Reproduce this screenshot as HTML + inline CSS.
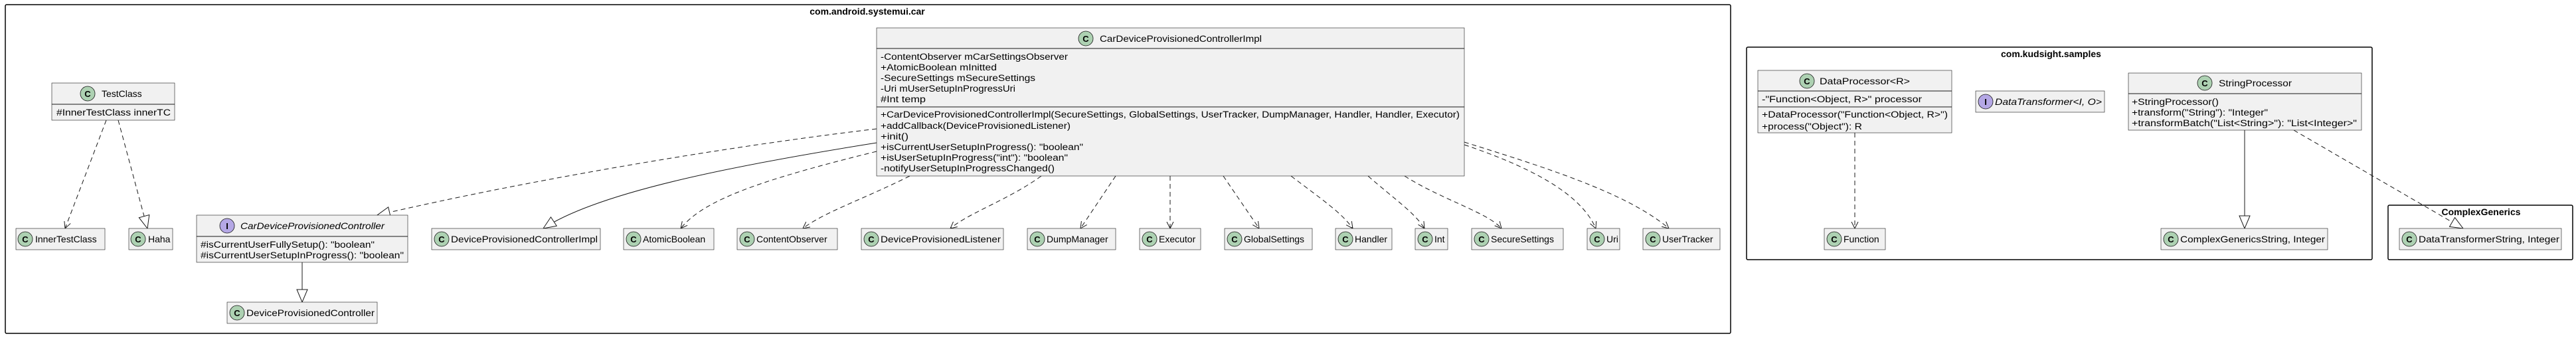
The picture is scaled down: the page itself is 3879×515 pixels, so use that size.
<!DOCTYPE html>
<html><head><meta charset="utf-8"><style>
html,body{margin:0;padding:0;background:#fff;}
svg{display:block;font-family:"Liberation Sans",sans-serif;}
.b{fill:#F1F1F1;stroke:#181818;stroke-width:0.6;}
.c{fill:#ADD1B2;stroke:#181818;stroke-width:0.8;}
.i{fill:#B4A7E5;stroke:#181818;stroke-width:0.8;}
.l{font-size:14px;fill:#000;}
.m{font-size:13.5px;fill:#000;}
.ic{font-size:13px;font-weight:bold;fill:#000;text-anchor:middle;}
.pk{fill:none;stroke:#000;stroke-width:1.5;}
.d{fill:none;stroke:#181818;stroke-width:1;stroke-dasharray:7,5;}
.s{fill:none;stroke:#181818;stroke-width:1;}
.pt{font-size:14px;font-weight:bold;fill:#000;}
</style></head><body>
<svg width="3879" height="515" viewBox="0 0 3879 515" xmlns="http://www.w3.org/2000/svg">
<defs>
<marker id="ar" markerWidth="12" markerHeight="12" refX="10" refY="6" orient="auto" markerUnits="userSpaceOnUse">
<path d="M0,1 L10,6 L0,11" fill="none" stroke="#181818" stroke-width="1"/></marker>
<marker id="tr" markerWidth="22" markerHeight="20" refX="20" refY="10" orient="auto" markerUnits="userSpaceOnUse">
<path d="M1,2 L20,10 L1,18 Z" fill="#fff" stroke="#181818" stroke-width="1"/></marker>
</defs>

<!-- packages -->
<rect class="pk" x="8" y="7" width="2598" height="495" rx="2"/>
<text class="pt" x="1306" y="22" text-anchor="middle">com.android.systemui.car</text>
<rect class="pk" x="2630" y="71" width="942" height="320" rx="2"/>
<text class="pt" x="3013" y="86">com.kudsight.samples</text>
<rect class="pk" x="3596" y="309" width="278" height="82" rx="2"/>
<text class="pt" x="3736" y="324" text-anchor="middle">ComplexGenerics</text>

<!-- edges -->
<path class="d" d="M160,181 L98,344" marker-end="url(#ar)"/>
<path class="d" d="M178,181 L222,344" marker-end="url(#tr)"/>
<path class="d" d="M1320,194 C1100,220 800,270 568,324" marker-end="url(#tr)"/>
<path class="s" d="M1320,215 C1100,250 900,290 818,344" marker-end="url(#tr)"/>
<path class="s" d="M455,395 L455,455" marker-end="url(#tr)"/>
<path class="d" d="M1320,228 C1150,270 1060,300 1025,344" marker-end="url(#ar)"/>
<path class="d" d="M1370,265 C1300,300 1240,320 1209,344" marker-end="url(#ar)"/>
<path class="d" d="M1568,265 C1520,300 1460,320 1431,344" marker-end="url(#ar)"/>
<path class="d" d="M1680,265 L1627,344" marker-end="url(#ar)"/>
<path class="d" d="M1762,265 L1762,344" marker-end="url(#ar)"/>
<path class="d" d="M1842,265 L1896,344" marker-end="url(#ar)"/>
<path class="d" d="M1944,265 C1990,300 2020,320 2037,344" marker-end="url(#ar)"/>
<path class="d" d="M2060,265 C2100,300 2130,320 2145,344" marker-end="url(#ar)"/>
<path class="d" d="M2115,265 C2170,300 2240,320 2261,344" marker-end="url(#ar)"/>
<path class="d" d="M2205,218 C2300,250 2380,290 2403,344" marker-end="url(#ar)"/>
<path class="d" d="M2205,214 C2320,250 2450,290 2513,344" marker-end="url(#ar)"/>
<path class="d" d="M2793,200 L2793,344" marker-end="url(#ar)"/>
<path class="s" d="M3380,196 L3380,344" marker-end="url(#tr)"/>
<path class="d" d="M3454,196 L3709,344" marker-end="url(#tr)"/>

<!-- TestClass -->
<rect class="b" x="78" y="125" width="185" height="56"/>
<line class="s" x1="78" y1="157" x2="263" y2="157"/>
<circle class="c" cx="132" cy="141" r="11"/><text class="ic" x="132" y="146">C</text>
<text class="l" x="153" y="146">TestClass</text>
<text class="m" x="85" y="174" textLength="172" lengthAdjust="spacingAndGlyphs">#InnerTestClass innerTC</text>

<!-- simple classes -->
<g>
<rect class="b" x="24" y="344" width="134" height="32"/><circle class="c" cx="38" cy="360" r="11"/><text class="ic" x="38" y="365">C</text><text class="l" x="53" y="365">InnerTestClass</text>
<rect class="b" x="194" y="344" width="66" height="32"/><circle class="c" cx="208" cy="360" r="11"/><text class="ic" x="208" y="365">C</text><text class="l" x="223" y="365">Haha</text>
<rect class="b" x="342" y="455" width="226" height="32"/><circle class="c" cx="357" cy="471" r="11"/><text class="ic" x="357" y="476">C</text><text class="l" x="371" y="476" textLength="193" lengthAdjust="spacingAndGlyphs">DeviceProvisionedController</text>
<rect class="b" x="650" y="344" width="254" height="32"/><circle class="c" cx="665" cy="360" r="11"/><text class="ic" x="665" y="365">C</text><text class="l" x="679" y="365" textLength="221" lengthAdjust="spacingAndGlyphs">DeviceProvisionedControllerImpl</text>
<rect class="b" x="939" y="344" width="136" height="32"/><circle class="c" cx="954" cy="360" r="11"/><text class="ic" x="954" y="365">C</text><text class="l" x="968" y="365">AtomicBoolean</text>
<rect class="b" x="1110" y="344" width="151" height="32"/><circle class="c" cx="1125" cy="360" r="11"/><text class="ic" x="1125" y="365">C</text><text class="l" x="1139" y="365">ContentObserver</text>
<rect class="b" x="1297" y="344" width="214" height="32"/><circle class="c" cx="1312" cy="360" r="11"/><text class="ic" x="1312" y="365">C</text><text class="l" x="1326" y="365" textLength="181" lengthAdjust="spacingAndGlyphs">DeviceProvisionedListener</text>
<rect class="b" x="1547" y="344" width="133" height="32"/><circle class="c" cx="1562" cy="360" r="11"/><text class="ic" x="1562" y="365">C</text><text class="l" x="1576" y="365">DumpManager</text>
<rect class="b" x="1716" y="344" width="92" height="32"/><circle class="c" cx="1731" cy="360" r="11"/><text class="ic" x="1731" y="365">C</text><text class="l" x="1745" y="365">Executor</text>
<rect class="b" x="1844" y="344" width="132" height="32"/><circle class="c" cx="1859" cy="360" r="11"/><text class="ic" x="1859" y="365">C</text><text class="l" x="1873" y="365">GlobalSettings</text>
<rect class="b" x="2011" y="344" width="85" height="32"/><circle class="c" cx="2026" cy="360" r="11"/><text class="ic" x="2026" y="365">C</text><text class="l" x="2040" y="365">Handler</text>
<rect class="b" x="2131" y="344" width="49" height="32"/><circle class="c" cx="2146" cy="360" r="11"/><text class="ic" x="2146" y="365">C</text><text class="l" x="2160" y="365">Int</text>
<rect class="b" x="2216" y="344" width="138" height="32"/><circle class="c" cx="2231" cy="360" r="11"/><text class="ic" x="2231" y="365">C</text><text class="l" x="2245" y="365">SecureSettings</text>
<rect class="b" x="2390" y="344" width="49" height="32"/><circle class="c" cx="2405" cy="360" r="11"/><text class="ic" x="2405" y="365">C</text><text class="l" x="2419" y="365">Uri</text>
<rect class="b" x="2474" y="344" width="116" height="32"/><circle class="c" cx="2489" cy="360" r="11"/><text class="ic" x="2489" y="365">C</text><text class="l" x="2503" y="365">UserTracker</text>
<rect class="b" x="2747" y="344" width="92" height="32"/><circle class="c" cx="2762" cy="360" r="11"/><text class="ic" x="2762" y="365">C</text><text class="l" x="2776" y="365">Function</text>
<rect class="b" x="3254" y="344" width="251" height="32"/><circle class="c" cx="3269" cy="360" r="11"/><text class="ic" x="3269" y="365">C</text><text class="l" x="3283" y="365" textLength="218" lengthAdjust="spacingAndGlyphs">ComplexGenericsString, Integer</text>
<rect class="b" x="3613" y="344" width="244" height="32"/><circle class="c" cx="3628" cy="360" r="11"/><text class="ic" x="3628" y="365">C</text><text class="l" x="3642" y="365" textLength="212" lengthAdjust="spacingAndGlyphs">DataTransformerString, Integer</text>
</g>

<!-- CarDeviceProvisionedController interface -->
<rect class="b" x="296" y="324" width="318" height="71"/>
<line class="s" x1="296" y1="356" x2="614" y2="356"/>
<circle class="i" cx="342" cy="340" r="11"/><text class="ic" x="342" y="345">I</text>
<text class="l" x="362" y="345" font-style="italic" textLength="217" lengthAdjust="spacingAndGlyphs">CarDeviceProvisionedController</text>
<text class="m" x="302" y="373" textLength="262" lengthAdjust="spacingAndGlyphs">#isCurrentUserFullySetup(): "boolean"</text>
<text class="m" x="302" y="389" textLength="306" lengthAdjust="spacingAndGlyphs">#isCurrentUserSetupInProgress(): "boolean"</text>

<!-- CarDeviceProvisionedControllerImpl -->
<rect class="b" x="1320" y="42" width="885" height="223"/>
<line class="s" x1="1320" y1="73" x2="2205" y2="73"/>
<line class="s" x1="1320" y1="161" x2="2205" y2="161"/>
<circle class="c" cx="1635" cy="58" r="11"/><text class="ic" x="1635" y="63">C</text>
<text class="l" x="1656" y="63" textLength="244" lengthAdjust="spacingAndGlyphs">CarDeviceProvisionedControllerImpl</text>
<text class="m" x="1326" y="90" textLength="282" lengthAdjust="spacingAndGlyphs">-ContentObserver mCarSettingsObserver</text>
<text class="m" x="1326" y="106" textLength="175" lengthAdjust="spacingAndGlyphs">+AtomicBoolean mInitted</text>
<text class="m" x="1326" y="122" textLength="233" lengthAdjust="spacingAndGlyphs">-SecureSettings mSecureSettings</text>
<text class="m" x="1326" y="138" textLength="203" lengthAdjust="spacingAndGlyphs">-Uri mUserSetupInProgressUri</text>
<text class="m" x="1326" y="154" textLength="68" lengthAdjust="spacingAndGlyphs">#Int temp</text>
<text class="m" x="1326" y="177" textLength="872" lengthAdjust="spacingAndGlyphs">+CarDeviceProvisionedControllerImpl(SecureSettings, GlobalSettings, UserTracker, DumpManager, Handler, Handler, Executor)</text>
<text class="m" x="1326" y="194" textLength="286" lengthAdjust="spacingAndGlyphs">+addCallback(DeviceProvisionedListener)</text>
<text class="m" x="1326" y="210" textLength="42" lengthAdjust="spacingAndGlyphs">+init()</text>
<text class="m" x="1326" y="226" textLength="305" lengthAdjust="spacingAndGlyphs">+isCurrentUserSetupInProgress(): "boolean"</text>
<text class="m" x="1326" y="242" textLength="282" lengthAdjust="spacingAndGlyphs">+isUserSetupInProgress("int"): "boolean"</text>
<text class="m" x="1326" y="258" textLength="262" lengthAdjust="spacingAndGlyphs">-notifyUserSetupInProgressChanged()</text>

<!-- DataProcessor -->
<rect class="b" x="2647" y="106" width="292" height="94"/>
<line class="s" x1="2647" y1="137" x2="2939" y2="137"/>
<line class="s" x1="2647" y1="161" x2="2939" y2="161"/>
<circle class="c" cx="2721" cy="122" r="11"/><text class="ic" x="2721" y="127">C</text>
<text class="l" x="2740" y="127" textLength="136" lengthAdjust="spacingAndGlyphs">DataProcessor&lt;R&gt;</text>
<text class="m" x="2653" y="154" textLength="241" lengthAdjust="spacingAndGlyphs">-"Function&lt;Object, R&gt;" processor</text>
<text class="m" x="2653" y="177" textLength="280" lengthAdjust="spacingAndGlyphs">+DataProcessor("Function&lt;Object, R&gt;")</text>
<text class="m" x="2653" y="195" textLength="151" lengthAdjust="spacingAndGlyphs">+process("Object"): R</text>

<!-- DataTransformer -->
<rect class="b" x="2975" y="137" width="194" height="32"/>
<circle class="i" cx="2990" cy="153" r="11"/><text class="ic" x="2990" y="158">I</text>
<text class="l" x="3004" y="158" font-style="italic" textLength="161" lengthAdjust="spacingAndGlyphs">DataTransformer&lt;I, O&gt;</text>

<!-- StringProcessor -->
<rect class="b" x="3205" y="110" width="351" height="86"/>
<line class="s" x1="3205" y1="141" x2="3556" y2="141"/>
<circle class="c" cx="3320" cy="125" r="11"/><text class="ic" x="3320" y="130">C</text>
<text class="l" x="3341" y="130" textLength="110" lengthAdjust="spacingAndGlyphs">StringProcessor</text>
<text class="m" x="3210" y="158" textLength="131" lengthAdjust="spacingAndGlyphs">+StringProcessor()</text>
<text class="m" x="3210" y="174" textLength="205" lengthAdjust="spacingAndGlyphs">+transform("String"): "Integer"</text>
<text class="m" x="3210" y="190" textLength="339" lengthAdjust="spacingAndGlyphs">+transformBatch("List&lt;String&gt;"): "List&lt;Integer&gt;"</text>
</svg>
</body></html>
